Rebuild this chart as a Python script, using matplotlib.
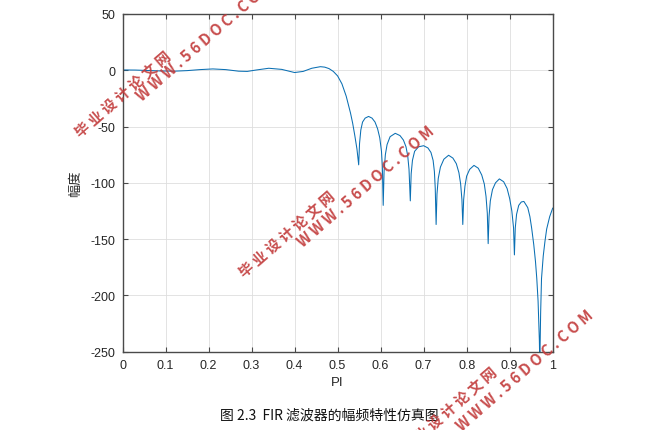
import numpy as np
import matplotlib
matplotlib.use('Agg')
import matplotlib.pyplot as plt

plt.rcParams['font.family'] = ['Liberation Sans', 'Noto Sans CJK SC', 'DejaVu Sans']
plt.rcParams['axes.unicode_minus'] = False

# normalised frequency (x PI) and magnitude (dB)
freq = [0.000, 0.030, 0.060, 0.090, 0.120, 0.150, 0.180, 0.210, 0.240, 0.270,
        0.290, 0.310, 0.340, 0.370, 0.400, 0.420, 0.440, 0.460, 0.470, 0.480,
        0.490, 0.500, 0.510, 0.520, 0.530, 0.535, 0.540, 0.545, 0.549,
        0.551, 0.554, 0.558, 0.564, 0.572, 0.580, 0.587, 0.593, 0.598, 0.602, 0.604, 0.606,
        0.608, 0.611, 0.615, 0.622, 0.634, 0.645, 0.653, 0.659, 0.663, 0.666, 0.669,
        0.671, 0.674, 0.679, 0.688, 0.700, 0.710, 0.717, 0.722, 0.725, 0.727, 0.729,
        0.731, 0.734, 0.739, 0.747, 0.758, 0.768, 0.776, 0.782, 0.786, 0.789, 0.791,
        0.793, 0.796, 0.800, 0.807, 0.817, 0.827, 0.835, 0.841, 0.845, 0.848, 0.850,
        0.852, 0.855, 0.860, 0.867, 0.876, 0.886, 0.894, 0.900, 0.905, 0.909, 0.911,
        0.913, 0.916, 0.921, 0.927, 0.933, 0.942, 0.947, 0.951, 0.956, 0.960, 0.963,
        0.966, 0.969, 0.970, 0.972, 0.974, 0.978, 0.982, 0.986, 0.993, 1.000]
mag = [0.3, 0.2, -0.2, -0.6, -0.8, -0.3, 0.6, 1.2, 0.6, -0.8,
       -1.0, 0.2, 1.8, 0.8, -2.0, -1.0, 1.8, 3.2, 2.8, 1.5,
       -1.0, -5.0, -12.0, -23.0, -38.0, -47.0, -58.0, -70.0, -84.0,
       -65, -53, -46, -42.5, -41, -42.5, -46, -52, -60, -72, -85, -120,
       -90, -75, -66, -59, -56, -58, -62, -68, -76, -88, -116,
       -92, -80, -72, -68, -67, -69, -73, -80, -90, -105, -137,
       -110, -96, -86, -79, -75.5, -78, -83, -91, -101, -115, -137,
       -115, -103, -94, -88, -84.5, -87, -93, -101, -112, -127, -154,
       -130, -116, -106, -100, -96.5, -99, -105, -114, -125, -140, -164,
       -140, -128, -120, -117, -116.5, -122, -130, -140, -155, -170, -185,
       -205, -240, -262, -215, -185, -165, -152, -141, -130, -122.5]

xticks = [0, 0.1, 0.2, 0.3, 0.4, 0.5, 0.6, 0.7, 0.8, 0.9, 1]
xticklabels = ['0', '0.1', '0.2', '0.3', '0.4', '0.5', '0.6', '0.7', '0.8', '0.9', '1']
yticks = [-250, -200, -150, -100, -50, 0, 50]

W, H = 660, 431
fig = plt.figure(figsize=(W / 100, H / 100), dpi=100)
ax = fig.add_axes([122.5 / W, 1 - 352.7 / H, 430.2 / W, 337.7 / H])

ax.plot(freq, mag, color='#0a6fb3', linewidth=0.75)
ax.set_xlim(0, 1)
ax.set_ylim(-250, 50)
ax.set_xticks(xticks)
ax.set_xticklabels(xticklabels)
ax.set_yticks(yticks)
ax.grid(True, color='#dedede', linewidth=0.6)
ax.set_axisbelow(True)
for s in ax.spines.values():
    s.set_color('#4a4a4a')
    s.set_linewidth(1.0)
ax.tick_params(direction='in', length=3.5, width=0.8, colors='#4a4a4a',
               labelcolor='#262626', labelsize=9, top=True, right=True, pad=5)

ax.set_xlabel('PI', fontsize=9.5, color='#262626', labelpad=4)
ax.set_ylabel('幅度', fontsize=9.5, color='#262626', labelpad=6,
              family=['Noto Sans CJK SC', 'DejaVu Sans'])

fig.text(329 / W, 1 - 416 / H, '图 2.3  FIR 滤波器的幅频特性仿真图', ha='center', va='center',
         fontsize=10, color='#111111', family=['Noto Sans CJK SC', 'DejaVu Sans'])

# watermarks
wm_color = '#c23b3b'
def wm(x, y, s, size):
    fig.text(x / W, 1 - y / H, s, rotation=41, rotation_mode='anchor', ha='left', va='baseline',
             fontsize=size, fontweight='bold', color=wm_color, alpha=0.9,
             family=['Noto Sans CJK SC', 'DejaVu Sans'])

cn = '毕 业 设 计 论 文 网'
www = 'W W W . 5 6 D O C . C O M'
wm(80, 138, cn, 10.5)
wm(142, 102, www, 10.8)
wm(244, 278, cn, 10.5)
wm(303, 248, www, 10.8)
wm(406, 454, cn, 10.5)
wm(462, 432, www, 10.8)

plt.savefig('out.png', dpi=100)
plt.close()
